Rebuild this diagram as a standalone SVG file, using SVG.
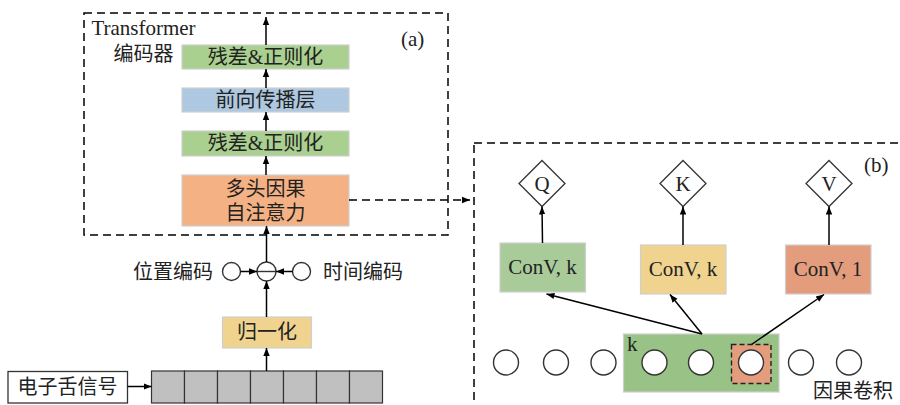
<svg xmlns="http://www.w3.org/2000/svg" width="900" height="405" viewBox="0 0 900 405">
  <style>
    .t { font-family: "Liberation Serif", "Noto Sans CJK SC", serif; font-size: 20px; fill: #222; }
    .l { font-size: 21px; }
    .c { text-anchor: middle; }
    .box { stroke: #cfcfcf; stroke-width: 1.2; }
    .ln { stroke: #000; stroke-width: 1.5; fill: none; }
    .dash { stroke: #000; stroke-width: 1.5; fill: none; stroke-dasharray: 8 5; }
    .circ { fill: #fff; stroke: #333; stroke-width: 1.4; }
  </style>
  <defs>
    <marker id="ah" viewBox="0 0 10 10" refX="10" refY="5" markerWidth="8" markerHeight="8" markerUnits="userSpaceOnUse" orient="auto">
      <path d="M0,1 L10,5 L0,9 z" fill="#000"/>
    </marker>
  </defs>

  <!-- frames -->
  <rect x="84" y="13" width="364" height="222" class="dash"/>
  <rect x="474" y="143" width="440" height="280" class="dash"/>
  <text class="t l" x="401" y="46">(a)</text>
  <text class="t l" x="864" y="172">(b)</text>
  <text class="t l c" x="143.5" y="35">Transformer</text>
  <text class="t c" x="143.5" y="61">编码器</text>

  <!-- encoder stack -->
  <g id="add-norm-2">
    <rect x="182" y="45" width="167" height="24" fill="#a9d08e" class="box"/>
    <text class="t c" x="265.5" y="64">残差&amp;正则化</text>
  </g>
  <g id="feed-forward">
    <rect x="182" y="88" width="167" height="24" fill="#adc8e0" class="box"/>
    <text class="t c" x="265.5" y="107">前向传播层</text>
  </g>
  <g id="add-norm-1">
    <rect x="182" y="131" width="167" height="25" fill="#a9d08e" class="box"/>
    <text class="t c" x="265.5" y="150">残差&amp;正则化</text>
  </g>
  <g id="causal-attention">
    <rect x="182" y="175" width="167" height="51" fill="#f4b183" class="box"/>
    <text class="t c" x="265.5" y="196">多头因果</text>
    <text class="t c" x="265.5" y="220">自注意力</text>
  </g>

  <!-- input path -->
  <g id="pos-enc">
    <circle cx="231.5" cy="271.5" r="9" class="circ"/>
    <text class="t" x="133" y="279">位置编码</text>
  </g>
  <g id="add">
    <circle cx="266.5" cy="271.5" r="9.5" fill="#fff" stroke="#333" stroke-width="1.4"/>
    <line x1="257" y1="271.5" x2="276" y2="271.5" stroke="#333" stroke-width="1.4"/>
  </g>
  <g id="time-enc">
    <circle cx="301.5" cy="271.5" r="9" class="circ"/>
    <text class="t" x="323" y="279">时间编码</text>
  </g>
  <g id="normalize">
    <rect x="222.5" y="317" width="89" height="31" fill="#efd38f" class="box"/>
    <text class="t c" x="267" y="339">归一化</text>
  </g>
  <g id="signal-label">
    <rect x="8" y="371.5" width="119.5" height="31.5" fill="#fff" stroke="#333" stroke-width="1.3"/>
    <text class="t c" x="67.5" y="394">电子舌信号</text>
  </g>
  <g id="signal-seq" fill="#c0c0c0" stroke="#333" stroke-width="1.2">
    <rect x="151.5" y="371" width="33" height="32"/>
    <rect x="184.5" y="371" width="33" height="32"/>
    <rect x="217.5" y="371" width="33" height="32"/>
    <rect x="250.5" y="371" width="33" height="32"/>
    <rect x="283.5" y="371" width="33" height="32"/>
    <rect x="316.5" y="371" width="33" height="32"/>
    <rect x="349.5" y="371" width="33" height="32"/>
  </g>

  <!-- causal convolution detail -->
  <g id="q">
    <polygon points="542,160.5 565,183.5 542,206.5 519,183.5" fill="#fff" stroke="#333" stroke-width="1.3"/>
    <text class="t l c" x="542" y="191">Q</text>
  </g>
  <g id="k">
    <polygon points="683,160.5 706,183.5 683,206.5 660,183.5" fill="#fff" stroke="#333" stroke-width="1.3"/>
    <text class="t l c" x="683" y="191">K</text>
  </g>
  <g id="v">
    <polygon points="829,160.5 852,183.5 829,206.5 806,183.5" fill="#fff" stroke="#333" stroke-width="1.3"/>
    <text class="t l c" x="829" y="191">V</text>
  </g>
  <g id="conv-q">
    <rect x="500" y="243" width="85.5" height="49" fill="#a9cb9a" class="box"/>
    <text class="t l c" x="542.5" y="274">ConV, k</text>
  </g>
  <g id="conv-k">
    <rect x="640.5" y="245" width="85.5" height="49" fill="#efd38f" class="box"/>
    <text class="t l c" x="683" y="276">ConV, k</text>
  </g>
  <g id="conv-v">
    <rect x="785.5" y="245" width="85.5" height="49" fill="#e39d7d" class="box"/>
    <text class="t l c" x="828" y="276">ConV, 1</text>
  </g>
  <g id="kernel">
    <rect x="623.5" y="334" width="155.5" height="58" fill="#98c286" class="box"/>
    <text class="t l" x="627" y="351">k</text>
    <rect x="731.5" y="344.5" width="39.5" height="39" fill="#e39d7d" stroke="#222" stroke-width="1.4" stroke-dasharray="5 3"/>
  </g>
  <g id="inputs">
    <circle cx="506" cy="362.5" r="12.5" class="circ"/>
    <circle cx="556" cy="362.5" r="12.5" class="circ"/>
    <circle cx="603.5" cy="362.5" r="12.5" class="circ"/>
    <circle cx="654.5" cy="362.5" r="12.5" class="circ"/>
    <circle cx="701" cy="362.5" r="12.5" class="circ"/>
    <circle cx="751" cy="362.5" r="12.5" class="circ"/>
    <circle cx="801" cy="362.5" r="12.5" class="circ"/>
    <circle cx="849" cy="362.5" r="12.5" class="circ"/>
  </g>
  <text class="t" x="813" y="398">因果卷积</text>

  <!-- connectors -->
  <g id="connectors">
    <line x1="266" y1="45" x2="266" y2="17" class="ln" marker-end="url(#ah)"/>
    <line x1="266" y1="88" x2="266" y2="69" class="ln" marker-end="url(#ah)"/>
    <line x1="266" y1="131" x2="266" y2="112" class="ln" marker-end="url(#ah)"/>
    <line x1="266" y1="175" x2="266" y2="156" class="ln" marker-end="url(#ah)"/>
    <line x1="266.5" y1="262" x2="266.5" y2="226" class="ln" marker-end="url(#ah)"/>
    <line x1="266.5" y1="317" x2="266.5" y2="281" class="ln" marker-end="url(#ah)"/>
    <line x1="266.5" y1="371" x2="266.5" y2="348" class="ln" marker-end="url(#ah)"/>
    <line x1="240.5" y1="271.5" x2="257" y2="271.5" class="ln" marker-end="url(#ah)"/>
    <line x1="292.5" y1="271.5" x2="276" y2="271.5" class="ln" marker-end="url(#ah)"/>
    <line x1="127.5" y1="386.5" x2="151.5" y2="386.5" class="ln" marker-end="url(#ah)"/>
    <line x1="349" y1="200" x2="470" y2="200" class="dash" marker-end="url(#ah)"/>
    <line x1="542.5" y1="243" x2="542" y2="206.5" class="ln" marker-end="url(#ah)"/>
    <line x1="683" y1="245" x2="683" y2="206.5" class="ln" marker-end="url(#ah)"/>
    <line x1="829" y1="245" x2="829" y2="206.5" class="ln" marker-end="url(#ah)"/>
    <line x1="702" y1="334" x2="546.5" y2="294" class="ln" marker-end="url(#ah)"/>
    <line x1="702" y1="334" x2="670" y2="294.5" class="ln" marker-end="url(#ah)"/>
    <line x1="751.5" y1="344.5" x2="824" y2="294.5" class="ln" marker-end="url(#ah)"/>
  </g>
</svg>
